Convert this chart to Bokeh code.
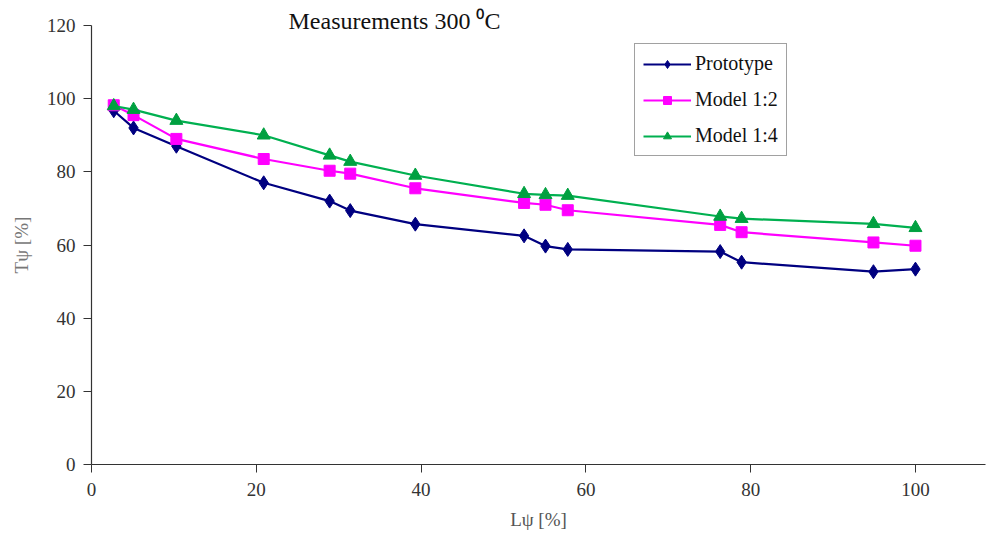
from bokeh.plotting import figure
from bokeh.models import Range1d, Legend, LegendItem, FixedTicker
from bokeh.embed import file_html
from bokeh.resources import INLINE

# data
L_psi = [2.7, 5.1, 10.3, 20.9, 28.9, 31.4, 39.3, 52.5, 55.1, 57.8, 76.3, 78.9, 94.9, 100.0]
prototype = [96.7, 92.0, 87.0, 77.0, 72.0, 69.4, 65.7, 62.5, 59.7, 58.8, 58.2, 55.3, 52.7, 53.4]
model_1_2 = [98.2, 95.5, 89.0, 83.5, 80.3, 79.5, 75.5, 71.5, 71.0, 69.5, 65.5, 63.5, 60.7, 59.8]
model_1_4 = [98.0, 97.0, 94.0, 90.0, 84.5, 82.8, 79.0, 74.0, 73.7, 73.5, 67.8, 67.2, 65.8, 64.7]
x_ticks = [0, 20, 40, 60, 80, 100]
y_ticks = [0, 20, 40, 60, 80, 100, 120]

FONT = "Liberation Serif"

p = figure(width=986, height=535, output_backend="svg", toolbar_location=None,
           x_range=Range1d(0, 108.5), y_range=Range1d(0, 120),
           min_border_left=91, min_border_right=1, min_border_top=25, min_border_bottom=71)
p.outline_line_color = None
p.xgrid.visible = False
p.ygrid.visible = False

p.title.text = "Measurements 300 ⁰C"
p.title.align = "left"
p.title.offset = 197
p.title.text_font = FONT
p.title.text_font_size = "24px"
p.title.text_font_style = "normal"
p.title.text_color = "#111111"
p.title.standoff = -16

for ax in (p.xaxis[0], p.yaxis[0]):
    ax.axis_line_color = "#333333"
    ax.axis_line_width = 1.2
    ax.major_tick_line_color = "#333333"
    ax.major_tick_in = 0
    ax.major_tick_out = 8
    ax.minor_tick_line_color = None
    ax.major_label_text_font = FONT
    ax.major_label_text_font_size = "19px"
    ax.major_label_text_color = "#333333"
    ax.axis_label_text_font = FONT
    ax.axis_label_text_font_size = "19px"
    ax.axis_label_text_font_style = "normal"

p.xaxis.ticker = FixedTicker(ticks=x_ticks)
p.yaxis.ticker = FixedTicker(ticks=y_ticks)
p.xaxis.major_label_standoff = 10
p.yaxis.major_label_standoff = 8
p.xaxis.axis_label = "Lψ [%]"
p.xaxis.axis_label_text_color = "#555555"
p.xaxis.axis_label_standoff = 10
p.yaxis.axis_label = "Tψ [%]"
p.yaxis.axis_label_text_color = "#777777"
p.yaxis.axis_label_standoff = 12

navy = "#000080"
magenta = "#FF00FF"
green = "#00B050"

l1 = p.line(L_psi, prototype, line_color=navy, line_width=2.2)
m1 = p.scatter(L_psi, prototype, marker="diamond", size=14, fill_color=navy, line_color=navy)
l2 = p.line(L_psi, model_1_2, line_color=magenta, line_width=2.2)
m2 = p.scatter(L_psi, model_1_2, marker="square", size=11, fill_color=magenta, line_color=magenta)
l3 = p.line(L_psi, model_1_4, line_color=green, line_width=2.2)
m3 = p.scatter(L_psi, model_1_4, marker="triangle", size=13, fill_color="#00A040", line_color="#00A040")

legend = Legend(items=[
    LegendItem(label="Prototype", renderers=[l1, m1]),
    LegendItem(label="Model 1:2", renderers=[l2, m2]),
    LegendItem(label="Model 1:4", renderers=[l3, m3]),
], location=(543, 308))
legend.label_text_font = FONT
legend.label_text_font_size = "20px"
legend.label_text_color = "#111111"
legend.glyph_width = 48
legend.glyph_height = 20
legend.spacing = 13
legend.padding = 8
legend.margin = 0
legend.label_standoff = 4
legend.border_line_color = "#444444"
legend.border_line_width = 1.2
legend.background_fill_alpha = 1.0
p.add_layout(legend, "center")

open("out.html", "w").write(file_html(p, INLINE))
